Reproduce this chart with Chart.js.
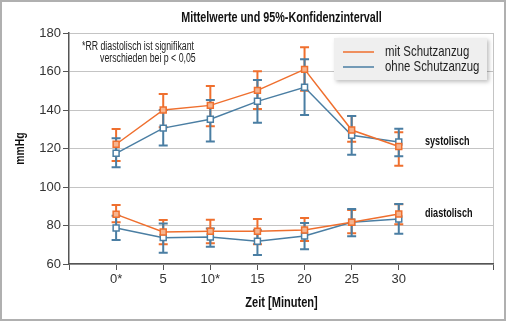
<!DOCTYPE html>
<html><head><meta charset="utf-8">
<script src="https://cdn.jsdelivr.net/npm/chart.js@4.4.1/dist/chart.umd.min.js"></script>
<style>html,body{margin:0;padding:0;background:#fff}#wrap{width:506px;height:321px;position:relative}</style>
</head><body><div id="wrap"><canvas id="c" width="506" height="321"></canvas></div>
<script>
const minutes = [0, 5, 10, 15, 20, 25, 30];
const xTickLabels = {0: '0*', 5: '5', 10: '10*', 15: '15', 20: '20', 25: '25', 30: '30'};
const yTicks = [60, 80, 100, 120, 140, 160, 180];

const sysMit = [122.2, 140.0, 142.4, 150.2, 161.1, 129.6, 121.0];
const sysMitLo = [113.5, 131.0, 131.5, 140.5, 150.0, 123.5, 111.1];
const sysMitHi = [130.1, 148.3, 152.5, 160.1, 172.6, 136.9, 128.5];
const sysOhne = [117.5, 130.6, 135.2, 144.5, 151.8, 126.9, 123.4];
const sysOhneLo = [110.2, 121.5, 123.7, 133.4, 137.4, 116.8, 116.0];
const sysOhneHi = [125.3, 140.0, 145.2, 155.6, 166.3, 136.9, 130.3];

const diaMit = [85.8, 76.6, 77.0, 77.0, 77.7, 81.7, 86.0];
const diaMitLo = [81.7, 70.2, 70.8, 70.2, 72.0, 76.0, 80.6];
const diaMitHi = [90.6, 82.9, 83.0, 83.4, 83.9, 88.0, 91.0];
const diaOhne = [78.7, 73.7, 74.0, 71.8, 74.5, 81.7, 83.4];
const diaOhneLo = [72.5, 65.9, 69.0, 64.7, 67.6, 74.4, 75.7];
const diaOhneHi = [85.1, 81.1, 78.5, 77.5, 81.3, 88.6, 91.2];

const seriesNames = ['mit Schutzanzug', 'ohne Schutzanzug'];
const ORANGE = '#ef6f2e', BLUE = '#4a7ea3';
const FONT = "'Liberation Sans', Arial, sans-serif";

function pts(vals, lo, hi) { return minutes.map((m, i) => ({x: m, y: vals[i], lo: lo[i], hi: hi[i]})); }
function ds(label, vals, lo, hi, color, fill) {
  return {label, data: pts(vals, lo, hi), borderColor: color, backgroundColor: fill,
    borderWidth: 1.5, pointStyle: 'rect', pointRadius: 4.2, pointBorderColor: color,
    pointBackgroundColor: fill, pointBorderWidth: 1.5, tension: 0};
}

// draw condensed text
function ctext(ctx, t, x, y, font, align, sx, color) {
  ctx.save();
  ctx.font = font; ctx.fillStyle = color || '#111'; ctx.textBaseline = 'middle';
  ctx.textAlign = align;
  ctx.translate(x, y); ctx.scale(sx, 1);
  ctx.fillText(t, 0, 0);
  ctx.restore();
}

const errorBars = {
  id: 'errorBars',
  beforeDatasetsDraw(chart) {
    const ctx = chart.ctx, ys = chart.scales.y, xs = chart.scales.x;
    chart.data.datasets.forEach(d => {
      ctx.save(); ctx.strokeStyle = d.borderColor; ctx.lineWidth = 2;
      d.data.forEach(p => {
        const x = xs.getPixelForValue(p.x), y1 = ys.getPixelForValue(p.lo), y2 = ys.getPixelForValue(p.hi);
        ctx.beginPath();
        ctx.moveTo(x, y1); ctx.lineTo(x, y2);
        ctx.moveTo(x - 4.5, y1); ctx.lineTo(x + 4.5, y1);
        ctx.moveTo(x - 4.5, y2); ctx.lineTo(x + 4.5, y2);
        ctx.stroke();
      });
      ctx.restore();
    });
  }
};

const decor = {
  id: 'decor',
  beforeDraw(chart) {
    const ctx = chart.ctx;
    ctx.save();
    ctx.fillStyle = '#fff'; ctx.fillRect(0, 0, 506, 321);
    ctx.strokeStyle = '#b0b0b0'; ctx.lineWidth = 2;
    ctx.strokeRect(1, 1, 504, 319);
    ctx.restore();
  },
  afterDraw(chart) {
    const ctx = chart.ctx, a = chart.chartArea;
    ctext(ctx, 'Mittelwerte und 95%-Konfidenzintervall', 281.5, 18, "bold 14px " + FONT, 'center', 0.77);
    ctext(ctx, 'Zeit [Minuten]', 281.5, 303, "bold 14px " + FONT, 'center', 0.79);
    ctx.save();
    ctx.translate(20, (a.top + a.bottom) / 2); ctx.rotate(-Math.PI / 2);
    ctext(ctx, 'mmHg', 0, 0, "bold 13px " + FONT, 'center', 0.8);
    ctx.restore();
    // note
    ctext(ctx, '*RR diastolisch ist signifikant', 82, 47, "12px " + FONT, 'left', 0.73, '#222');
    ctext(ctx, 'verschieden bei p < 0,05', 100, 59, "12px " + FONT, 'left', 0.73, '#222');
    // region labels
    ctext(ctx, 'systolisch', 425, 141, "bold 13px " + FONT, 'left', 0.7);
    ctext(ctx, 'diastolisch', 425, 213, "bold 13px " + FONT, 'left', 0.7);
    // legend
    ctx.save();
    ctx.shadowColor = 'rgba(0,0,0,0.25)'; ctx.shadowBlur = 4; ctx.shadowOffsetX = 2; ctx.shadowOffsetY = 2;
    ctx.fillStyle = '#efefef'; ctx.fillRect(334, 38, 153, 42);
    ctx.restore();
    const items = [[seriesNames[0], ORANGE, 52], [seriesNames[1], BLUE, 67]];
    items.forEach(([t, c, y]) => {
      ctx.save();
      ctx.strokeStyle = c; ctx.lineWidth = 1.5;
      ctx.beginPath(); ctx.moveTo(343, y); ctx.lineTo(374, y); ctx.stroke();
      ctx.restore();
      ctext(ctx, t, 385, y, "15px " + FONT, 'left', 0.76, '#222');
    });
  }
};

new Chart(document.getElementById('c'), {
  type: 'line',
  data: {datasets: [
    ds(seriesNames[0], sysMit, sysMitLo, sysMitHi, ORANGE, '#f6b48f'),
    ds(seriesNames[1], sysOhne, sysOhneLo, sysOhneHi, BLUE, '#ffffff'),
    ds(seriesNames[0], diaMit, diaMitLo, diaMitHi, ORANGE, '#f6b48f'),
    ds(seriesNames[1], diaOhne, diaOhneLo, diaOhneHi, BLUE, '#ffffff')
  ]},
  options: {
    responsive: false, animation: false, devicePixelRatio: 1,
    layout: {padding: {top: 33, right: 13, left: 0, bottom: 0}},
    plugins: {legend: {display: false}, title: {display: false}, tooltip: {enabled: false}},
    scales: {
      x: {type: 'linear', min: -5, max: 40,
        afterBuildTicks(s) { s.ticks = [-5].concat(minutes, [40]).map(v => ({value: v})); },
        afterFit(s) { s.height = 57; },
        ticks: {autoSkip: false, maxRotation: 0, padding: 2, color: '#333',
          font: {family: FONT, size: 13},
          callback: v => (xTickLabels[v] !== undefined ? xTickLabels[v] : '')},
        grid: {drawOnChartArea: true, tickLength: 6, tickColor: '#555', lineWidth: 1,
          color: c => (c.tick && c.tick.value === 40 ? '#c4c4c4' : 'rgba(0,0,0,0)')},
        border: {color: '#555', width: 1.5}
      },
      y: {min: 60, max: 180,
        afterBuildTicks(s) { s.ticks = yTicks.map(v => ({value: v})); },
        afterFit(s) { s.width = 69; },
        ticks: {padding: 2, color: '#333', font: {family: FONT, size: 13}},
        grid: {color: '#c4c4c4', tickColor: '#555', tickLength: 6, lineWidth: 1},
        border: {color: '#555', width: 1.5}
      }
    }
  },
  plugins: [decor, errorBars]
});
</script></body></html>
